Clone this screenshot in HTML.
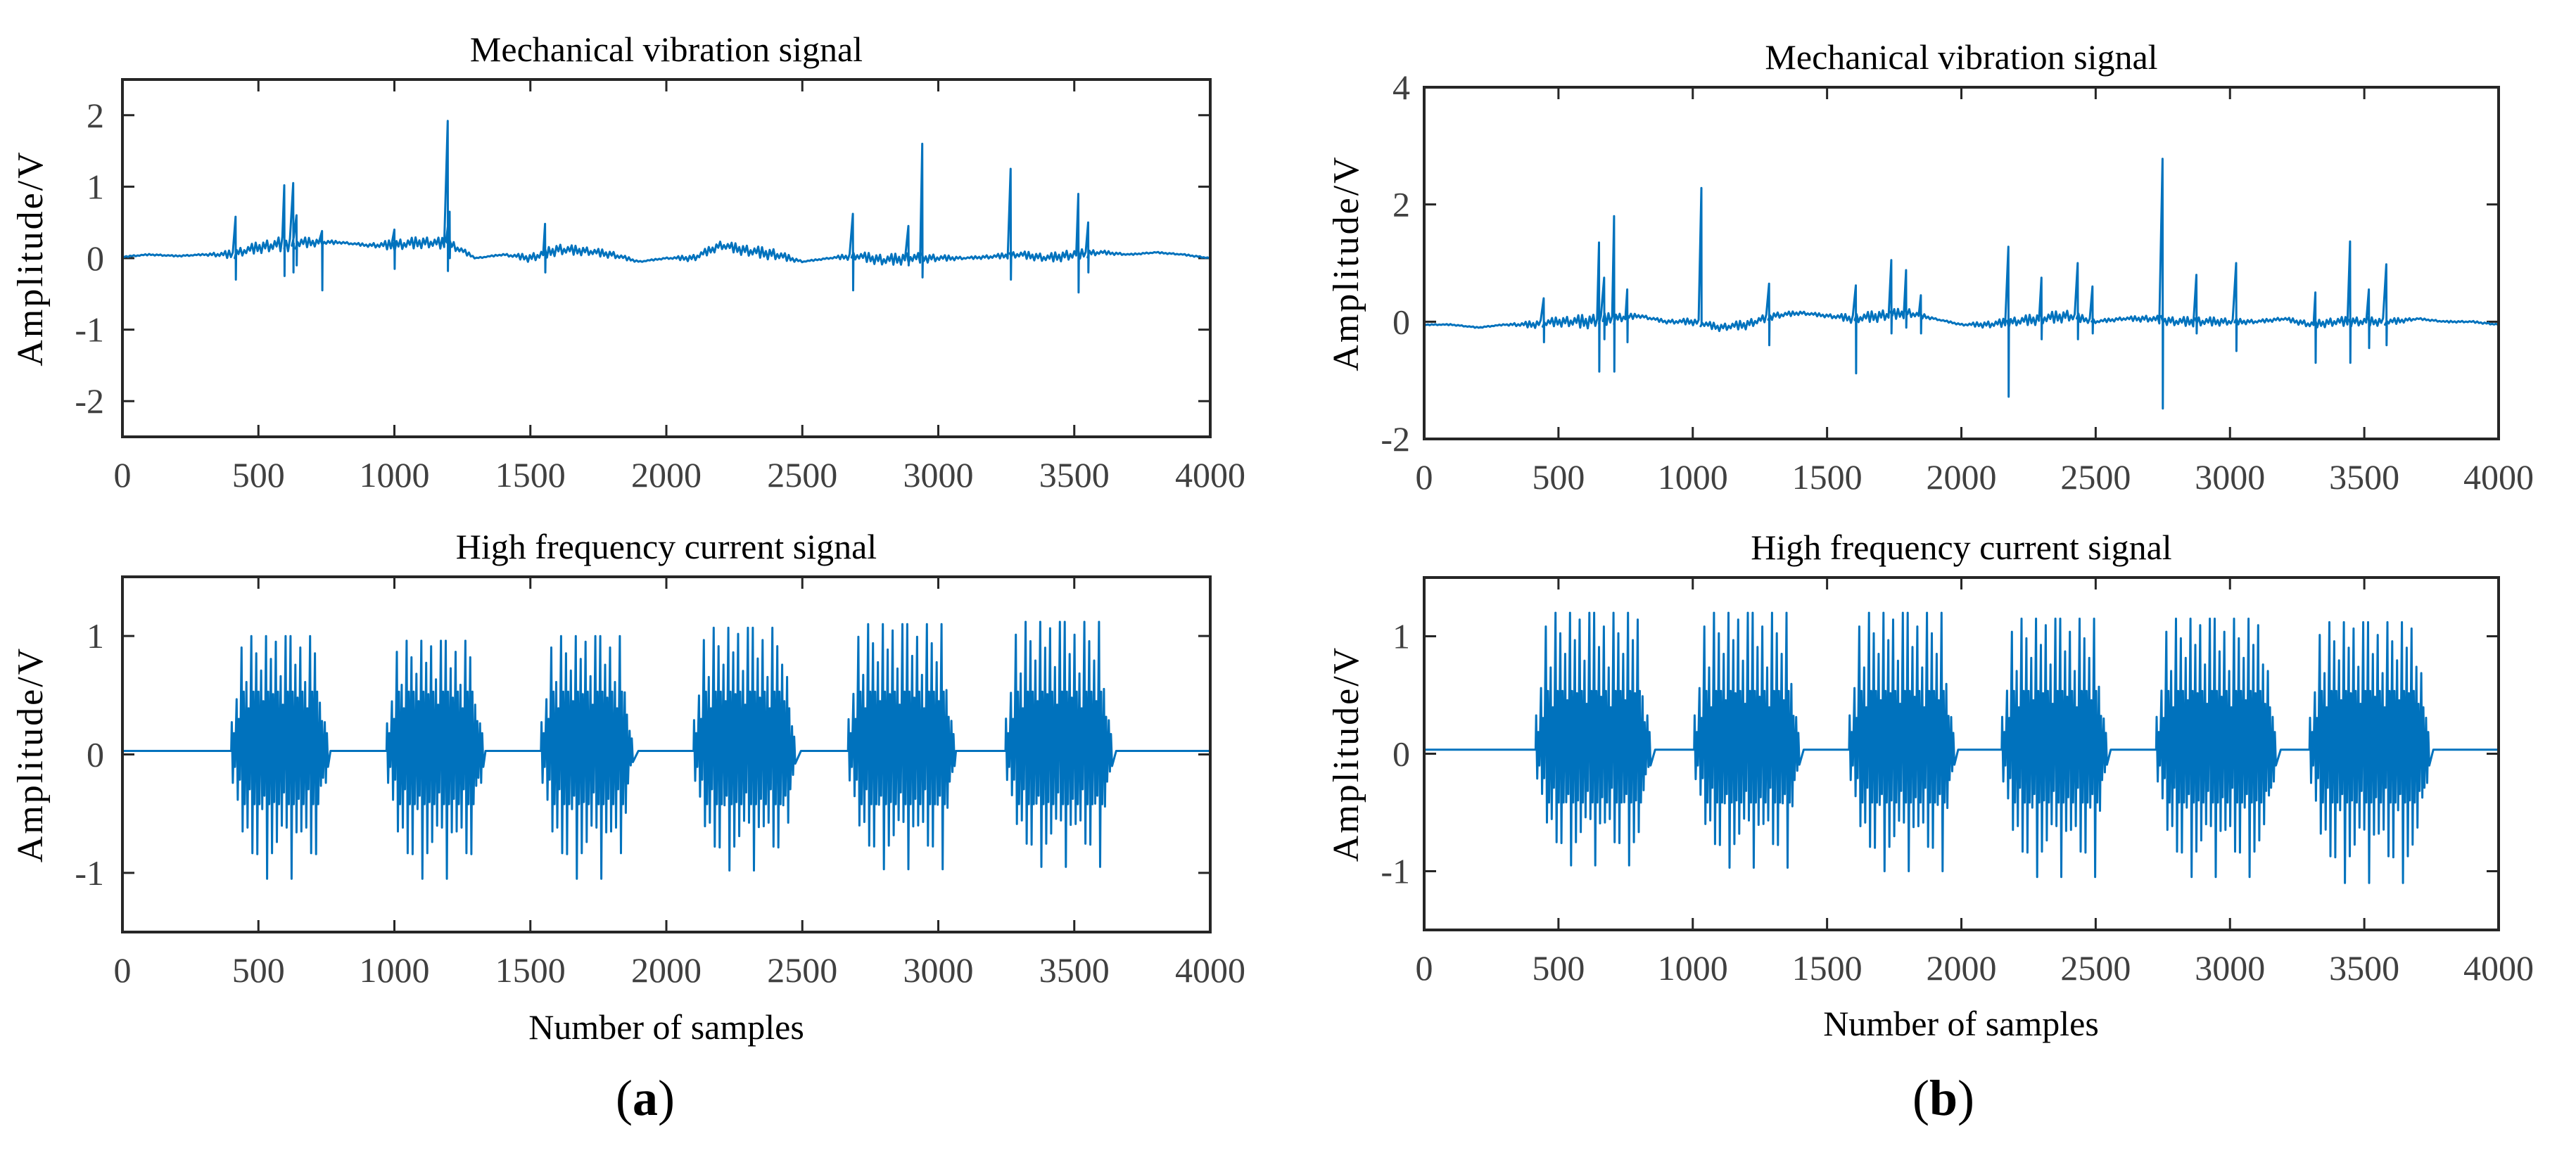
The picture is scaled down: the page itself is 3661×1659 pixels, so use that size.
<!DOCTYPE html>
<html><head><meta charset="utf-8"><style>
html,body{margin:0;padding:0;background:#fff;}
svg{display:block;font-family:"Liberation Serif",serif;}
</style></head><body>
<svg id="fig" width="3661" height="1659" viewBox="0 0 3661 1659" xmlns="http://www.w3.org/2000/svg"></svg>
<script>
// ---- data ----
const xTicks = [0,500,1000,1500,2000,2500,3000,3500,4000];
const baseX = [0,100,200,300,400,500,600,700,800,900,1000,1100,1200,1300,1400,1500,1600,1700,1800,1900,2000,2100,2200,2300,2400,2500,2600,2700,2800,2900,3000,3100,3200,3300,3400,3500,3600,3700,3800,3900,4000];
const vibA_base = [0.02,0.05,0.03,0.05,0.05,0.15,0.2,0.22,0.22,0.18,0.18,0.22,0.2,0.0,0.05,0.0,0.12,0.1,0.05,-0.05,0.0,0.0,0.18,0.1,0.05,-0.05,0.0,0.03,-0.03,0.0,0.0,0.0,0.02,0.05,0.0,0.05,0.08,0.05,0.08,0.05,0.0];
const vibA_noise = [0.01,0.01,0.01,0.01,0.06,0.08,0.11,0.06,0.015,0.02,0.08,0.08,0.08,0.01,0.01,0.06,0.08,0.06,0.05,0.01,0.01,0.05,0.06,0.08,0.08,0.01,0.01,0.06,0.08,0.08,0.05,0.015,0.03,0.05,0.06,0.08,0.03,0.01,0.01,0.01,0.01];
const vibA_spikeX = [416,595,628,640,734,1000,1196,1203,1554,2686,2890,2941,3266,3515,3551];
const vibA_spikeHi = [0.58,1.02,1.05,0.6,0.38,0.4,1.92,0.65,0.48,0.62,0.45,1.6,1.25,0.9,0.5];
const vibA_spikeLo = [-0.3,-0.25,-0.2,-0.1,-0.45,-0.15,-0.18,0.0,-0.2,-0.45,-0.1,-0.27,-0.3,-0.48,-0.2];
const vibB_base = [-0.05,-0.05,-0.1,-0.05,-0.05,0.0,0.0,0.05,0.1,0.0,0.0,-0.1,-0.05,0.1,0.15,0.1,0.05,0.1,0.15,0.05,-0.05,-0.05,0.0,0.05,0.1,0.0,0.05,0.05,0.0,0.0,0.0,0.0,0.05,-0.05,0.0,0.0,0.0,0.05,0.0,0.0,-0.05];
const vibB_noise = [0.01,0.01,0.01,0.01,0.06,0.08,0.12,0.1,0.03,0.03,0.06,0.06,0.08,0.06,0.03,0.03,0.08,0.1,0.08,0.015,0.015,0.06,0.08,0.1,0.1,0.03,0.03,0.06,0.08,0.08,0.06,0.03,0.03,0.06,0.08,0.08,0.06,0.015,0.015,0.015,0.015];
const vibB_spikeX = [445,651,670,707,756,1032,1284,1607,1739,1794,1849,2175,2298,2433,2488,2749,2875,3023,3318,3447,3517,3582];
const vibB_spikeHi = [0.4,1.35,0.75,1.8,0.55,2.28,0.65,0.62,1.05,0.88,0.45,1.28,0.75,1.0,0.6,2.78,0.8,1.0,0.5,1.37,0.55,0.98];
const vibB_spikeLo = [-0.35,-0.85,-0.3,-0.85,-0.35,-0.05,-0.4,-0.88,-0.2,-0.1,-0.2,-1.28,-0.3,-0.3,-0.2,-1.48,-0.2,-0.5,-0.7,-0.7,-0.45,-0.4];
const curA_start = [400,971,1539,2100,2668,3247];
const curA_end = [765,1335,1897,2495,3065,3654];
const curA_hi = [1.0,0.96,1.0,1.07,1.1,1.12];
const curA_lo = [-1.05,-1.05,-1.05,-0.98,-0.97,-0.95];
const curA_baseline = 0.03;
const curB_start = [415,1005,1582,2150,2725,3296];
const curB_end = [860,1413,1988,2556,3189,3757];
const curB_hi = [1.2,1.2,1.2,1.15,1.15,1.12];
const curB_lo = [-0.95,-0.97,-1.0,-1.05,-1.05,-1.1];
const curB_baseline = 0.035;

const NS = "http://www.w3.org/2000/svg";
const svg = document.getElementById('fig');
function el(tag, attrs, parent){ const e=document.createElementNS(NS,tag); for(const k in attrs) e.setAttribute(k,attrs[k]); (parent||svg).appendChild(e); return e; }
function txt(s, attrs, parent){ const e=el('text',attrs,parent); e.textContent=s; return e; }

function makeAxes(cfg){
  const g = el('g',{});
  
  
  const {L,R,T,B,ymin,ymax,yTicks} = cfg;
  const sx = v => L + (v/4000)*(R-L);
  const sy = v => B - (v-ymin)/(ymax-ymin)*(B-T);
  const t = txt(cfg.title,{x:(L+R)/2,y:T-26,'text-anchor':'middle','font-size':50,fill:'#000'},g);
  
  
  const yl = txt('Amplitude/V',{x:0,y:0,'text-anchor':'middle','font-size':52,'letter-spacing':3,fill:'#000',transform:`translate(${cfg.ylabX},${(T+B)/2}) rotate(-90)`},g);
  
  
  xTicks.forEach(v=>{
    const x=sx(v);
    el('line',{x1:x,y1:B,x2:x,y2:B-17,stroke:'#262626','stroke-width':3},g);
    el('line',{x1:x,y1:T,x2:x,y2:T+17,stroke:'#262626','stroke-width':3},g);
    const l = txt(String(v),{x:x,y:B+71,'text-anchor':'middle','font-size':50,fill:'#404040'},g);
    
    
  });
  yTicks.forEach(v=>{
    const y=sy(v);
    el('line',{x1:L,y1:y,x2:L+17,y2:y,stroke:'#262626','stroke-width':3},g);
    el('line',{x1:R,y1:y,x2:R-17,y2:y,stroke:'#262626','stroke-width':3},g);
    const l = txt(String(v),{x:L-cfg.ytOff,y:y+17,'text-anchor':'end','font-size':50,fill:'#404040'},g);
    
    
  });
  const cid = cfg.name+'-clip';
  const cp = el('clipPath',{id:cid},g); el('rect',{x:L,y:T,width:R-L,height:B-T},cp);
  const pts = cfg.points(sx,sy);
  const p = el('polyline',{points:pts.map(q=>q[0].toFixed(1)+','+q[1].toFixed(1)).join(' '),fill:'none',stroke:'#0072BD','stroke-width':3,'stroke-linejoin':'round','clip-path':`url(#${cid})`},g);
  
  
  const box = el('rect',{x:L,y:T,width:R-L,height:B-T,fill:'none',stroke:'#262626','stroke-width':4},g);
  
  
}

function interp(xs, ys, x){
  for(let i=0;i<xs.length-1;i++){ if(x<=xs[i+1]){ const f=(x-xs[i])/(xs[i+1]-xs[i]); return ys[i]+f*(ys[i+1]-ys[i]); } }
  return ys[ys.length-1];
}
function vibPoints(base, noise, spX, spHi, spLo){
  return (sx,sy)=>{
    const pts=[]; const pattern=[1,-0.6,0.4,-1,0.7,-0.3,0.9,-0.8,0.2,-0.5,0.6,-0.2,1,-0.9];
    let k=0; const step=7;
    for(let s=0;s<=4000;s+=step){
      for(let j=0;j<spX.length;j++){
        if(spX[j]>=s && spX[j]<s+step){
          const b=interp(baseX,base,spX[j]);
          pts.push([sx(spX[j]),sy(spHi[j])]);
          pts.push([sx(spX[j]+1),sy(Math.min(spLo[j],b))]);
          pts.push([sx(spX[j]+2),sy(b)]);
        }
      }
      const b=interp(baseX,base,s), n=interp(baseX,noise,s);
      pts.push([sx(s), sy(b + n*pattern[k%pattern.length])]); k++;
    }
    return pts;
  };
}
function curPoints(starts, ends, his, los, baseline){
  return (sx,sy)=>{
    const pts=[[sx(0),sy(baseline)]];
    const env=[1,0.75,0.9,0.6,1,0.85,0.7,1,0.8,0.95,0.65,1];
    const inner=[0.5,-0.45];
    for(let i=0;i<starts.length;i++){
      pts.push([sx(starts[i]),sy(baseline)]);
      const period=18, n=Math.floor((ends[i]-starts[i])/period);
      for(let c=0;c<n;c++){
        const x=starts[i]+c*period;
        let e=env[c%env.length];
        if(c<1||c>n-2) e*=0.25; else if(c<2||c>n-3) e*=0.6;
        pts.push([sx(x+2), sy(baseline+(his[i]-baseline)*e)]);
        pts.push([sx(x+6), sy(baseline+(los[i]-baseline)*env[(c+4)%env.length]*e)]);
        for(let q=0;q<inner.length;q++){
          pts.push([sx(x+10+q*4), sy(baseline+inner[q]*Math.min(1,e*1.2))]);
        }
      }
      pts.push([sx(ends[i]),sy(baseline)]);
    }
    pts.push([sx(4000),sy(baseline)]);
    return pts;
  };
}

makeAxes({name:'plot-a-vibration',title:'Mechanical vibration signal',L:174,R:1720,T:113,B:621,ymin:-2.5,ymax:2.5,yTicks:[-2,-1,0,1,2],ytOff:26,ylabX:60,
  points:vibPoints(vibA_base,vibA_noise,vibA_spikeX,vibA_spikeHi,vibA_spikeLo)});
makeAxes({name:'plot-a-current',title:'High frequency current signal',L:174,R:1720,T:820,B:1325,ymin:-1.5,ymax:1.5,yTicks:[-1,0,1],ytOff:26,ylabX:60,
  points:curPoints(curA_start,curA_end,curA_hi,curA_lo,curA_baseline)});
makeAxes({name:'plot-b-vibration',title:'Mechanical vibration signal',L:2024,R:3551,T:124,B:624,ymin:-2,ymax:4,yTicks:[-2,0,2,4],ytOff:20,ylabX:1930,
  points:vibPoints(vibB_base,vibB_noise,vibB_spikeX,vibB_spikeHi,vibB_spikeLo)});
makeAxes({name:'plot-b-current',title:'High frequency current signal',L:2024,R:3551,T:821,B:1322,ymin:-1.5,ymax:1.5,yTicks:[-1,0,1],ytOff:20,ylabX:1930,
  points:curPoints(curB_start,curB_end,curB_hi,curB_lo,curB_baseline)});

const xa = txt('Number of samples',{x:947,y:1477,'text-anchor':'middle','font-size':50,fill:'#000'});


const xb = txt('Number of samples',{x:2787,y:1472,'text-anchor':'middle','font-size':50,fill:'#000'});


const la = el('text',{x:917,y:1585,'text-anchor':'middle','font-size':72,fill:'#000'});
la.innerHTML='(<tspan font-weight="bold">a</tspan>)';


const lb = el('text',{x:2762,y:1585,'text-anchor':'middle','font-size':72,fill:'#000'});
lb.innerHTML='(<tspan font-weight="bold">b</tspan>)';


</script>
</body></html>
